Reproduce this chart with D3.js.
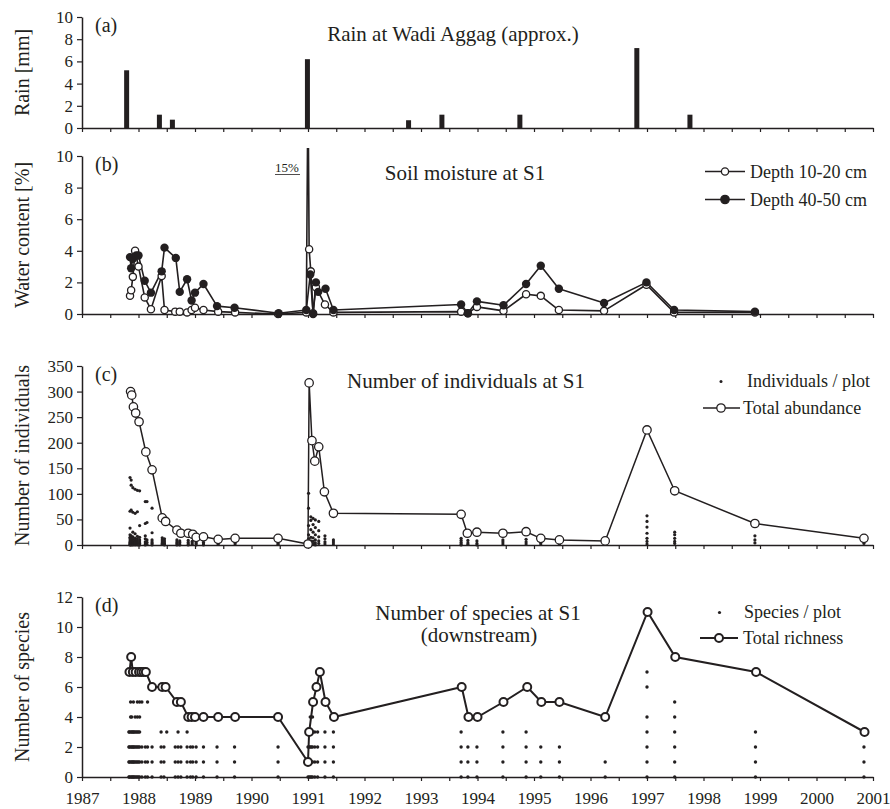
<!DOCTYPE html>
<html>
<head>
<meta charset="utf-8">
<script src="https://cdn.jsdelivr.net/npm/d3@7/dist/d3.min.js"></script>
<style>
  body { margin: 0; background: #fff; }
  svg { display: block; font-family: "Liberation Serif", "Times New Roman", serif; }
</style>
</head>
<body>
<div id="chart"></div>
<script>
// (a) rain events
var rainDates  = [1987.79, 1988.37, 1988.60, 1990.99, 1992.78, 1993.37, 1994.75, 1996.82, 1997.76]
var rainValues = [5.2, 1.2, 0.75, 6.2, 0.7, 1.2, 1.2, 7.2, 1.2]

// (b) soil moisture, depth 10-20 cm (open) and 40-50 cm (filled)
var soil10Dates  = [1987.85, 1987.87, 1987.90, 1987.94, 1988.00, 1988.11, 1988.22, 1988.41, 1988.46, 1988.65, 1988.73, 1988.86, 1988.94, 1989.00, 1989.15, 1989.41, 1989.71, 1990.47, 1990.97, 1991.00, 1991.02, 1991.05, 1991.09, 1991.14, 1991.30, 1991.45, 1993.71, 1993.83, 1993.99, 1994.46, 1994.86, 1995.12, 1995.44, 1996.24, 1996.99, 1997.48, 1998.91]
var soil10Values = [1.15, 1.5, 2.35, 4.0, 3.0, 1.05, 0.3, 2.4, 0.25, 0.15, 0.15, 0.1, 0.25, 0.4, 0.25, 0.15, 0.1, 0.0, 0.1, 15, 4.1, 2.7, 0.05, 1.7, 0.6, 0.1, 0.15, 0.05, 0.45, 0.2, 1.25, 1.15, 0.25, 0.2, 1.85, 0.1, 0.1]
var soil40Dates  = [1987.85, 1987.87, 1987.90, 1987.96, 1988.00, 1988.11, 1988.22, 1988.41, 1988.46, 1988.66, 1988.73, 1988.86, 1988.94, 1989.00, 1989.15, 1989.39, 1989.70, 1990.48, 1990.97, 1991.04, 1991.09, 1991.14, 1991.18, 1991.31, 1991.45, 1993.71, 1993.83, 1993.99, 1994.46, 1994.86, 1995.12, 1995.44, 1996.24, 1996.99, 1997.48, 1998.91]
var soil40Values = [3.6, 2.9, 3.5, 3.7, 3.7, 2.1, 1.35, 2.7, 4.2, 3.55, 1.4, 2.2, 0.85, 1.35, 1.9, 0.5, 0.4, 0.05, 0.25, 2.5, 0.0, 2.0, 1.4, 1.6, 0.25, 0.6, 0.05, 0.8, 0.55, 1.9, 3.05, 1.6, 0.7, 2.0, 0.25, 0.15]

// (c) total abundance
var abundDates  = [1987.86, 1987.88, 1987.91, 1987.95, 1988.01, 1988.13, 1988.24, 1988.42, 1988.48, 1988.68, 1988.75, 1988.88, 1988.96, 1989.02, 1989.15, 1989.41, 1989.71, 1990.47, 1991.00, 1991.02, 1991.07, 1991.12, 1991.19, 1991.29, 1991.45, 1993.71, 1993.82, 1993.99, 1994.45, 1994.86, 1995.12, 1995.45, 1996.26, 1997.00, 1997.49, 1998.91, 2000.84]
var abundValues = [300, 293, 270, 258, 241, 182, 147, 53, 46, 29, 23, 23, 21, 15, 16, 11, 13, 13, 2, 317, 204, 164, 192, 104, 62, 60, 23, 25, 23, 26, 13, 10, 8, 225, 106, 42, 13]

// (c) individuals per plot
var plotIndDates = [1987.85, 1987.87, 1987.90, 1987.94, 1987.98, 1988.02, 1988.12, 1988.15, 1988.24, 1988.42, 1988.46, 1988.68, 1988.73, 1988.88, 1988.95, 1989.02, 1989.15, 1989.41, 1989.71, 1990.47,
                    1991.01, 1991.05, 1991.09, 1991.13, 1991.19, 1991.30, 1991.45, 1993.71, 1993.83, 1993.99, 1994.45, 1994.86, 1995.12, 1995.45, 1996.26, 1997.00, 1997.49, 1998.91, 2000.84]
var plotIndValues = [
  [132, 66, 33, 20, 15, 12, 8, 5, 3, 1, 0],
  [127, 117, 68, 18, 14, 10, 6, 3, 0],
  [112, 64, 25, 16, 11, 7, 4, 2, 0],
  [109, 62, 22, 13, 9, 5, 1, 0],
  [107, 65, 17, 12, 8, 4, 0],
  [106, 38, 15, 10, 6, 3, 0],
  [85, 42, 18, 12, 6, 2, 0],
  [85, 44, 10, 5, 1],
  [72, 24, 10, 6, 3, 0],
  [14, 10, 6, 3, 1],
  [12, 8, 4, 2, 0],
  [10, 6, 3, 0],
  [8, 5, 2, 0],
  [9, 5, 2, 0],
  [7, 4, 1],
  [6, 3, 0],
  [5, 2, 0],
  [4, 1],
  [5, 2],
  [3, 1],
  [101, 72, 38, 20, 12, 6, 2, 0],
  [55, 48, 30, 15, 8, 3, 0],
  [52, 40, 25, 14, 7, 2],
  [49, 34, 20, 10, 4, 0],
  [46, 28, 16, 8, 3],
  [18, 12, 6, 2],
  [10, 6, 2],
  [13, 9, 5, 2, 0],
  [9, 4, 1],
  [8, 3, 0],
  [10, 6, 2],
  [11, 6, 2],
  [5, 2],
  [4, 1],
  [3, 1],
  [57, 46, 35, 23, 13, 7, 2],
  [25, 20, 13, 7, 3],
  [18, 10, 4],
  [7, 3]
]

// (d) total richness
var richDates  = [1987.84, 1987.87, 1987.90, 1987.95, 1988.01, 1988.05, 1988.09, 1988.13, 1988.24, 1988.42, 1988.48, 1988.68, 1988.75, 1988.88, 1988.94, 1989.00, 1989.15, 1989.41, 1989.71, 1990.47, 1991.00, 1991.02, 1991.09, 1991.15, 1991.21, 1991.31, 1991.46, 1993.72, 1993.84, 1994.00, 1994.46, 1994.88, 1995.13, 1995.45, 1996.26, 1997.01, 1997.50, 1998.93, 2000.85]
var richValues = [7, 8, 7, 7, 7, 7, 7, 7, 6, 6, 6, 5, 5, 4, 4, 4, 4, 4, 4, 4, 1, 3, 5, 6, 7, 5, 4, 6, 4, 4, 5, 6, 5, 5, 4, 11, 8, 7, 3]

// (d) species per plot
var plotSpDates = [1987.83, 1987.84, 1987.86, 1987.88, 1987.89, 1987.91, 1987.92, 1987.94, 1987.96, 1987.98, 1988.00, 1988.02, 1988.06, 1988.12, 1988.16, 1988.24, 1988.40, 1988.45, 1988.50, 1988.65, 1988.70, 1988.75, 1988.86, 1988.92, 1988.96, 1989.02, 1989.15, 1989.39, 1989.70, 1990.47,
                   1991.00, 1991.02, 1991.04, 1991.06, 1991.08, 1991.12, 1991.17, 1991.30, 1991.45, 1993.71, 1993.83, 1993.99, 1994.45, 1994.86, 1995.12, 1995.45, 1996.26, 1997.00, 1997.49, 1998.92, 2000.84]
var plotSpValues = [
  [0, 1, 2, 3], [0, 1, 2, 3], [0, 1, 2, 3, 4, 5], [0, 1, 2, 3, 4], [0, 1, 2, 3],
  [0, 1, 2, 3, 5], [0, 1, 2, 3], [0, 1, 2, 3, 4], [0, 1, 2, 3], [0, 1, 2, 3, 4, 5], [0, 1, 2, 3],
  [0, 1, 2, 3, 4, 5], [0, 1, 2, 5], [0, 1, 2], [0, 1, 2, 5],
  [0, 1, 2], [0, 1, 2, 3], [0, 1, 2], [3], [0, 1, 2], [0, 1, 2, 3], [0, 1, 2],
  [0, 1, 2, 3], [0, 1, 2, 4], [0, 1, 2], [0, 1, 2], [0, 1, 2], [0, 1, 2], [0, 1, 2], [0, 1, 2],
  [0, 1, 2, 3], [0, 1, 2, 3], [0, 1, 2, 3, 4], [0, 1, 2, 3], [0, 1, 2, 3, 4], [0, 1, 2, 3], [0, 1, 2, 3], [0, 1, 2, 3], [0, 1, 2, 3],
  [0, 1, 2, 3], [0, 1, 2], [0, 1, 2], [0, 1, 2, 3], [0, 1, 2, 3], [0, 1, 2], [0, 1, 2],
  [0, 1], [0, 1, 2, 3, 4, 6, 7], [0, 1, 2, 3, 4, 5], [0, 1, 2, 3], [0, 1, 2]
]

var yearTicks = d3.range(1987, 2001.01, 0.5)
var yearLabels = d3.range(1987, 2002, 1)

var ink = "#231f20"
var width = 890, height = 809

var svg = d3.select("#chart").append("svg")
    .attr("width", width)
    .attr("height", height)

var x = d3.scaleLinear().domain([1987, 2001]).range([82, 873])

var panels = [
  { key: "a", y: d3.scaleLinear().domain([0, 10]).range([128, 17]), ticks: [0, 2, 4, 6, 8, 10], ylabel: "Rain [mm]" },
  { key: "b", y: d3.scaleLinear().domain([0, 10]).range([314, 156]), ticks: [0, 2, 4, 6, 8, 10], ylabel: "Water content [%]" },
  { key: "c", y: d3.scaleLinear().domain([0, 350]).range([545, 366]), ticks: [0, 50, 100, 150, 200, 250, 300, 350], ylabel: "Number of individuals" },
  { key: "d", y: d3.scaleLinear().domain([0, 12]).range([777, 597]), ticks: [0, 2, 4, 6, 8, 10, 12], ylabel: "Number of species" }
]

panels.forEach(function(p){
  var y = p.y
  var g = svg.append("g").attr("class", "panel-" + p.key)
  p.g = g

  // x axis
  var xa = g.append("g")
      .attr("transform", "translate(0," + y(0) + ")")
      .call(d3.axisBottom(x).tickValues(yearTicks).tickSize(4).tickSizeOuter(0).tickFormat(""))
  xa.select(".domain").attr("stroke", ink).attr("stroke-width", 1.5)
  xa.selectAll(".tick line").attr("stroke", ink).attr("stroke-width", 1.2)

  // y axis
  var ya = g.append("g")
      .attr("transform", "translate(" + x(1987) + ",0)")
      .call(d3.axisLeft(y).tickValues(p.ticks).tickSize(5).tickPadding(4).tickSizeOuter(0))
  ya.select(".domain").attr("stroke", ink).attr("stroke-width", 1.5)
  ya.selectAll(".tick line").attr("stroke", ink).attr("stroke-width", 1.2)
  ya.selectAll(".tick text")
      .attr("fill", ink)
      .style("font-family", "Liberation Serif")
      .style("font-size", "17px")

  g.append("text")
      .attr("transform", "translate(29," + ((y.range()[0] + y.range()[1]) / 2) + ") rotate(-90)")
      .attr("text-anchor", "middle")
      .attr("fill", ink)
      .style("font-size", "20px")
      .text(p.ylabel)

  g.append("text")
      .attr("x", 95)
      .attr("y", y.range()[1] + 15)
      .attr("fill", ink)
      .style("font-size", "20px")
      .text("(" + p.key + ")")
})

// bottom year labels
var pd = panels[3]
var xl = svg.append("g")
    .attr("transform", "translate(0," + pd.y(0) + ")")
    .call(d3.axisBottom(x).tickValues(yearLabels).tickSize(0).tickPadding(15).tickFormat(d3.format("d")))
xl.select(".domain").remove()
xl.selectAll(".tick text")
    .attr("fill", ink)
    .style("font-family", "Liberation Serif")
    .style("font-size", "17px")

function title(txt, cx, baseline, size){
  svg.append("text")
      .attr("x", cx).attr("y", baseline)
      .attr("text-anchor", "middle")
      .attr("fill", ink)
      .style("font-size", size + "px")
      .text(txt)
}

// ---- (a) rain bars
var ya = panels[0].y
panels[0].g.selectAll(".rain")
    .data(rainDates.map(function(d, i){ return { t: d, v: rainValues[i] } }))
  .enter().append("rect")
    .attr("class", "rain")
    .attr("x", function(d){ return x(d.t) - 2.5 })
    .attr("width", 5)
    .attr("y", function(d){ return ya(d.v) })
    .attr("height", function(d){ return ya(0) - ya(d.v) })
    .attr("fill", ink)
title("Rain at Wadi Aggag (approx.)", 453, 41, 21)

// ---- (b) soil moisture
var yb = panels[1].y
svg.append("clipPath").attr("id", "clipB")
  .append("rect").attr("x", 70).attr("y", 148).attr("width", 820).attr("height", 180)

var lineB = d3.line().x(function(d){ return x(d.t) }).y(function(d){ return yb(d.v) })
var s10 = soil10Dates.map(function(d, i){ return { t: d, v: soil10Values[i] } })
var s40 = soil40Dates.map(function(d, i){ return { t: d, v: soil40Values[i] } })
var gb = panels[1].g.append("g").attr("clip-path", "url(#clipB)")

gb.append("path").datum(s10).attr("d", lineB)
    .attr("fill", "none").attr("stroke", ink).attr("stroke-width", 1.6).attr("stroke-linejoin", "round")
gb.append("path").datum(s40).attr("d", lineB)
    .attr("fill", "none").attr("stroke", ink).attr("stroke-width", 1.6).attr("stroke-linejoin", "round")
gb.selectAll(".s10").data(s10.filter(function(d){ return d.v <= 10 }))
  .enter().append("circle").attr("class", "s10")
    .attr("cx", function(d){ return x(d.t) }).attr("cy", function(d){ return yb(d.v) })
    .attr("r", 3.6).attr("fill", "#fff").attr("stroke", ink).attr("stroke-width", 1.3)
gb.selectAll(".s40").data(s40)
  .enter().append("circle").attr("class", "s40")
    .attr("cx", function(d){ return x(d.t) }).attr("cy", function(d){ return yb(d.v) })
    .attr("r", 4.2).attr("fill", ink)

svg.append("text").attr("x", 275).attr("y", 172)
    .attr("fill", ink).style("font-size", "13px").text("15%")
svg.append("line").attr("x1", 275).attr("x2", 300).attr("y1", 174.5).attr("y2", 174.5)
    .attr("stroke", ink).attr("stroke-width", 0.8)
title("Soil moisture at S1", 465, 180, 21)

// legend (b)
var lgB = svg.append("g")
;[{ y: 171.5, fill: "#fff", txt: "Depth 10-20 cm" }, { y: 199.5, fill: ink, txt: "Depth 40-50 cm" }].forEach(function(l){
  lgB.append("line").attr("x1", 705).attr("x2", 745).attr("y1", l.y).attr("y2", l.y)
      .attr("stroke", ink).attr("stroke-width", 1.6)
  lgB.append("circle").attr("cx", 725).attr("cy", l.y).attr("r", l.fill === ink ? 4.2 : 3.6)
      .attr("fill", l.fill).attr("stroke", ink).attr("stroke-width", 1.3)
  lgB.append("text").attr("x", 750).attr("y", l.y + 6.5)
      .attr("fill", ink).style("font-size", "18px").text(l.txt)
})

// ---- (c) individuals
var yc = panels[2].y
var plotInd = []
plotIndDates.forEach(function(t, i){ plotIndValues[i].forEach(function(v){ plotInd.push({ t: t, v: v }) }) })
var abund = abundDates.map(function(d, i){ return { t: d, v: abundValues[i] } })
var gc = panels[2].g

gc.selectAll(".pi").data(plotInd)
  .enter().append("circle").attr("class", "pi")
    .attr("cx", function(d){ return x(d.t) }).attr("cy", function(d){ return yc(d.v) })
    .attr("r", 1.6).attr("fill", ink)
gc.append("path").datum(abund)
    .attr("d", d3.line().x(function(d){ return x(d.t) }).y(function(d){ return yc(d.v) }))
    .attr("fill", "none").attr("stroke", ink).attr("stroke-width", 1.5)
gc.selectAll(".ab").data(abund)
  .enter().append("circle").attr("class", "ab")
    .attr("cx", function(d){ return x(d.t) }).attr("cy", function(d){ return yc(d.v) })
    .attr("r", 4.2).attr("fill", "#fff").attr("stroke", ink).attr("stroke-width", 1.3)
title("Number of individuals at S1", 466, 388, 21)

svg.append("circle").attr("cx", 721).attr("cy", 381.5).attr("r", 1.5).attr("fill", ink)
svg.append("text").attr("x", 747).attr("y", 387).attr("fill", ink).style("font-size", "18px").text("Individuals / plot")
svg.append("line").attr("x1", 703).attr("x2", 740).attr("y1", 408).attr("y2", 408).attr("stroke", ink).attr("stroke-width", 1.5)
svg.append("circle").attr("cx", 721).attr("cy", 408).attr("r", 4.2).attr("fill", "#fff").attr("stroke", ink).attr("stroke-width", 1.3)
svg.append("text").attr("x", 743).attr("y", 414).attr("fill", ink).style("font-size", "18px").text("Total abundance")

// ---- (d) species
var yd = panels[3].y
var plotSp = []
plotSpDates.forEach(function(t, i){ plotSpValues[i].forEach(function(v){ plotSp.push({ t: t, v: v }) }) })
var rich = richDates.map(function(d, i){ return { t: d, v: richValues[i] } })
var gd = panels[3].g

gd.selectAll(".ps").data(plotSp)
  .enter().append("circle").attr("class", "ps")
    .attr("cx", function(d){ return x(d.t) }).attr("cy", function(d){ return yd(d.v) })
    .attr("r", 1.7).attr("fill", ink)
gd.append("path").datum(rich)
    .attr("d", d3.line().x(function(d){ return x(d.t) }).y(function(d){ return yd(d.v) }))
    .attr("fill", "none").attr("stroke", ink).attr("stroke-width", 2)
gd.selectAll(".ri").data(rich)
  .enter().append("circle").attr("class", "ri")
    .attr("cx", function(d){ return x(d.t) }).attr("cy", function(d){ return yd(d.v) })
    .attr("r", 4).attr("fill", "#fff").attr("stroke", ink).attr("stroke-width", 2)
title("Number of species at S1", 478, 620, 21)
title("(downstream)", 479, 642, 21)

svg.append("circle").attr("cx", 719.5).attr("cy", 612.5).attr("r", 1.6).attr("fill", ink)
svg.append("text").attr("x", 744).attr("y", 618).attr("fill", ink).style("font-size", "18px").text("Species / plot")
svg.append("line").attr("x1", 700).attr("x2", 738).attr("y1", 638).attr("y2", 638).attr("stroke", ink).attr("stroke-width", 2)
svg.append("circle").attr("cx", 719).attr("cy", 638).attr("r", 4).attr("fill", "#fff").attr("stroke", ink).attr("stroke-width", 2)
svg.append("text").attr("x", 743).attr("y", 644).attr("fill", ink).style("font-size", "18px").text("Total richness")
</script>
</body>
</html>
